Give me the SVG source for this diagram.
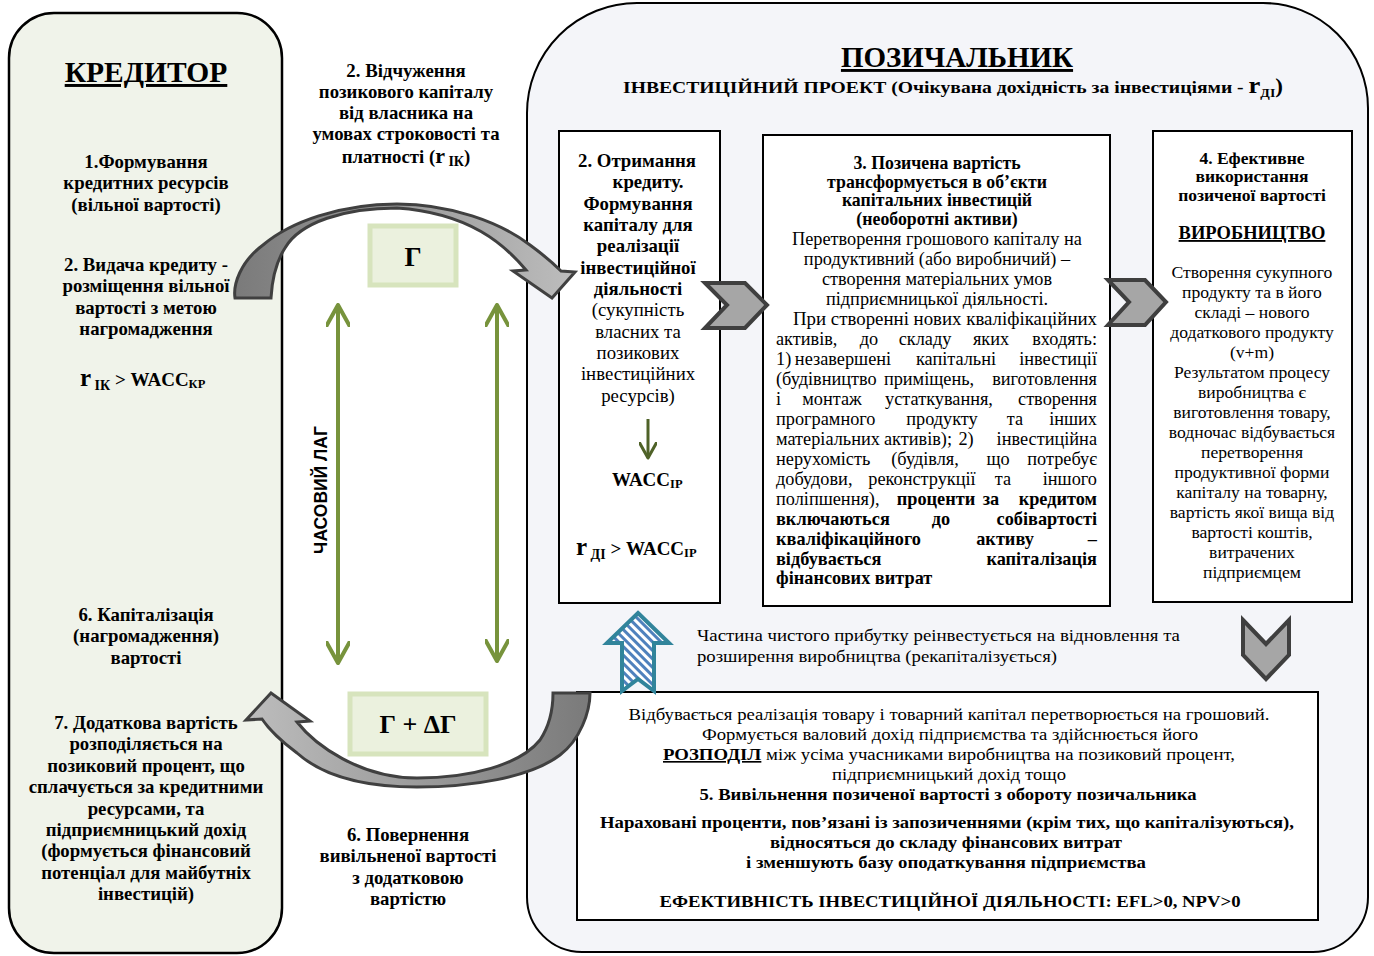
<svg xmlns="http://www.w3.org/2000/svg" width="1374" height="956" viewBox="0 0 1374 956">
<defs>
<style>
text{font-family:"Liberation Serif","Times New Roman",serif;fill:#000}
.b{font-weight:bold}
.c{text-anchor:middle}
.s{text-anchor:start}
.e{text-anchor:end}
.f19{font-size:18.8px}
.f18{font-size:18.3px}
.f3h{font-size:17.8px}
.f4{font-size:17.6px}
.u{text-decoration:underline}
.box{fill:#fff;stroke:#000;stroke-width:2}
.gbox{fill:#ebf1de;stroke:#d7e4bd;stroke-width:5}
.chev{fill:#a6a6a6;stroke:#3f3f3f;stroke-width:4;stroke-linejoin:miter}
.curv{stroke:#404040;stroke-width:3;stroke-linejoin:miter}
.gline{stroke:#77933c;stroke-width:4;fill:none}
.sans{font-family:"Liberation Sans",Arial,sans-serif}
</style>
<linearGradient id="gTop" x1="0" x2="1" y1="0" y2="0"><stop offset="0" stop-color="#7a7a7a"/><stop offset="1" stop-color="#bdbdbd"/></linearGradient>
<linearGradient id="gBot" x1="0" x2="1" y1="0" y2="0"><stop offset="0" stop-color="#bdbdbd"/><stop offset="1" stop-color="#7a7a7a"/></linearGradient>
<pattern id="hatch" width="6" height="6" patternUnits="userSpaceOnUse" patternTransform="rotate(-45)"><rect width="6" height="6" fill="#ffffff"/><rect width="3" height="6" fill="#4f81bd"/></pattern>
<marker id="gh" viewBox="0 0 10 10" refX="9" refY="5" markerWidth="6" markerHeight="6" orient="auto-start-reverse" markerUnits="strokeWidth"><path d="M0,0 L9,5 L0,10" fill="none" stroke="#77933c" stroke-width="1.7" stroke-linecap="round" stroke-linejoin="round"/></marker>
<marker id="gh2" viewBox="0 0 10 10" refX="9" refY="5" markerWidth="6" markerHeight="6" orient="auto" markerUnits="strokeWidth"><path d="M0,0 L9,5 L0,10" fill="none" stroke="#4f6228" stroke-width="1.7" stroke-linecap="round" stroke-linejoin="round"/></marker>
</defs>

<rect width="1374" height="956" fill="#ffffff"/>

<g id="kredytor">
<rect x="9" y="13" width="273" height="940" rx="45" ry="45" fill="#f0f3ea" stroke="#000" stroke-width="2.5"/>
<text class="b c u" x="146" y="82" font-size="29.5">КРЕДИТОР</text>
<text class="b c f19" x="146"><tspan x="146" y="168">1.Формування</tspan><tspan x="146" y="189">кредитних ресурсів</tspan><tspan x="146" y="211">(вільної вартості)</tspan></text>
<text class="b c f19" x="146"><tspan x="146" y="271">2. Видача кредиту -</tspan><tspan x="146" y="292">розміщення вільної</tspan><tspan x="146" y="314">вартості з метою</tspan><tspan x="146" y="335">нагромадження</tspan></text>
<text class="b s" x="80" y="386"><tspan font-size="25">r</tspan><tspan font-size="14" dy="4"> ІК</tspan><tspan font-size="19" dy="-4"> &gt; WACC</tspan><tspan font-size="12.5" dy="2">КР</tspan></text>
<text class="b c f19" x="146"><tspan x="146" y="621">6. Капіталізація</tspan><tspan x="146" y="642">(нагромадження)</tspan><tspan x="146" y="664">вартості</tspan></text>
<text class="b c f19" x="146"><tspan x="146" y="729">7. Додаткова вартість</tspan><tspan x="146" y="750">розподіляється на</tspan><tspan x="146" y="772">позиковий процент, що</tspan><tspan x="146" y="793">сплачується за кредитними</tspan><tspan x="146" y="815">ресурсами, та</tspan><tspan x="146" y="836">підприємницький дохід</tspan><tspan x="146" y="857">(формується фінансовий</tspan><tspan x="146" y="879">потенціал для майбутніх</tspan><tspan x="146" y="900">інвестицій)</tspan></text>
</g>

<g id="pozychalnyk">
<path d="M527,113 A110,110 0 0 1 637,3 L1263,3 A105,105 0 0 1 1368,108 L1368,897 A55,55 0 0 1 1313,952 L582,952 A55,55 0 0 1 527,897 Z" fill="#f4f5f9" stroke="#000" stroke-width="2"/>
<text class="b c u" x="957" y="67" font-size="29">ПОЗИЧАЛЬНИК</text>
<text class="b s" x="623" y="93" textLength="660" lengthAdjust="spacingAndGlyphs"><tspan font-size="17">ІНВЕСТИЦІЙНИЙ ПРОЕКТ (Очікувана дохідність за інвестиціями - </tspan><tspan font-size="23">r</tspan><tspan font-size="12" dy="4">ДІ</tspan><tspan font-size="20" dy="-4">)</tspan></text>
</g>

<g id="lbl-vidchuzhennia">
<text class="b c f19" x="406"><tspan x="406" y="77">2. Відчуження</tspan><tspan x="406" y="98">позикового капіталу</tspan><tspan x="406" y="119">від власника на</tspan><tspan x="406" y="140">умовах строковості та</tspan><tspan x="406" y="163">платності (<tspan font-size="22">r</tspan><tspan font-size="14" dy="3"> ІК</tspan><tspan dy="-3">)</tspan></tspan></text>
</g>

<g id="lbl-povernennia">
<text class="b c f19" x="408"><tspan x="408" y="841">6. Повернення</tspan><tspan x="408" y="862">вивільненої вартості</tspan><tspan x="408" y="884">з додатковою</tspan><tspan x="408" y="905">вартістю</tspan></text>
</g>

<g id="lbl-lag">
<text class="sans b c" font-size="17.5" transform="translate(327,490) rotate(-90)" x="0" y="0">ЧАСОВИЙ ЛАГ</text>
</g>

<g id="node-G">
<rect class="gbox" x="370" y="226" width="86" height="59"/>
<text class="b c" x="413" y="266" font-size="27">Г</text>
</g>

<g id="node-GdG">
<rect class="gbox" x="350" y="694" width="136" height="60"/>
<text class="b c" x="418" y="733" font-size="26">Г + ΔГ</text>
</g>

<g id="box2">
<rect class="box" x="559" y="131" width="161" height="472"/>
<text class="b c f19" x="638"><tspan x="637" y="167">2. Отримання</tspan><tspan x="648" y="188">кредиту.</tspan><tspan x="638" y="210">Формування</tspan><tspan x="638" y="231">капіталу для</tspan><tspan x="638" y="252">реалізації</tspan><tspan x="638" y="274">інвестиційної</tspan><tspan x="638" y="295">діяльності</tspan></text>
<text class="c f19" x="638"><tspan x="638" y="316">(сукупність</tspan><tspan x="638" y="338">власних та</tspan><tspan x="638" y="359">позикових</tspan><tspan x="638" y="380">інвестиційних</tspan><tspan x="638" y="402">ресурсів)</tspan></text>
<text class="b s" x="612" y="486"><tspan font-size="19">WACC</tspan><tspan font-size="12.5" dy="2">ІР</tspan></text>
<text class="b s" x="576" y="555"><tspan font-size="25">r</tspan><tspan font-size="14" dy="4"> ДІ</tspan><tspan font-size="19" dy="-4"> &gt; WACC</tspan><tspan font-size="12.5" dy="2">ІР</tspan></text>
</g>

<g id="box3">
<rect class="box" x="763" y="135" width="347" height="471"/>
<text class="b c f3h" x="937"><tspan x="937" y="169">3. Позичена вартість</tspan><tspan x="937" y="188">трансформується в об’єкти</tspan><tspan x="937" y="206">капітальних інвестицій</tspan><tspan x="937" y="225">(необоротні активи)</tspan></text>
<text class="c f18" x="937"><tspan x="937" y="245">Перетворення грошового капіталу на</tspan><tspan x="937" y="265">продуктивний (або виробничий) –</tspan><tspan x="937" y="285">створення матеріальних умов</tspan><tspan x="937" y="305">підприємницької діяльності.</tspan></text>
<text class="s f18" x="793" y="325" textLength="304" lengthAdjust="spacingAndGlyphs">При створенні нових кваліфікаційних</text>
<text class="f18" y="345"><tspan class="s" x="776">активів,</tspan><tspan class="c" x="869">до</tspan><tspan class="c" x="925">складу</tspan><tspan class="c" x="991">яких</tspan><tspan class="e" x="1097">входять:</tspan></text>
<text class="f18" y="365"><tspan class="s" x="776">1)</tspan><tspan class="c" x="843">незавершені</tspan><tspan class="c" x="956">капітальні</tspan><tspan class="e" x="1097">інвестиції</tspan></text>
<text class="f18" y="385"><tspan class="s" x="776">(будівництво</tspan><tspan class="c" x="929">приміщень,</tspan><tspan class="e" x="1097">виготовлення</tspan></text>
<text class="f18" y="405"><tspan class="s" x="776">і</tspan><tspan class="c" x="832">монтаж</tspan><tspan class="c" x="939">устаткування,</tspan><tspan class="e" x="1097">створення</tspan></text>
<text class="f18" y="425"><tspan class="s" x="776">програмного</tspan><tspan class="c" x="942">продукту</tspan><tspan class="c" x="1015">та</tspan><tspan class="e" x="1097">інших</tspan></text>
<text class="f18" y="445"><tspan class="s" x="776">матеріальних</tspan><tspan class="c" x="918">активів);</tspan><tspan class="c" x="966">2)</tspan><tspan class="e" x="1097">інвестиційна</tspan></text>
<text class="f18" y="465"><tspan class="s" x="776">нерухомість</tspan><tspan class="c" x="925">(будівля,</tspan><tspan class="c" x="998">що</tspan><tspan class="e" x="1097">потребує</tspan></text>
<text class="f18" y="485"><tspan class="s" x="776">добудови,</tspan><tspan class="c" x="922">реконструкції</tspan><tspan class="c" x="1003">та</tspan><tspan class="e" x="1097">іншого</tspan></text>
<text class="f18" y="505"><tspan class="s" x="776">поліпшення),</tspan><tspan class="c b" x="936">проценти</tspan><tspan class="c b" x="991">за</tspan><tspan class="e b" x="1097">кредитом</tspan></text>
<text class="f18 b" y="525"><tspan class="s" x="776">включаються</tspan><tspan class="c" x="941">до</tspan><tspan class="e" x="1097">собівартості</tspan></text>
<text class="f18 b" y="545"><tspan class="s" x="776">кваліфікаційного</tspan><tspan class="c" x="1005">активу</tspan><tspan class="e" x="1097">–</tspan></text>
<text class="f18 b" y="565"><tspan class="s" x="776">відбувається</tspan><tspan class="e" x="1097">капіталізація</tspan></text>
<text class="f18 b s" x="776" y="584">фінансових витрат</text>
</g>

<g id="box4">
<rect class="box" x="1153" y="131" width="199" height="471"/>
<text class="b c" font-size="17.5" x="1252"><tspan x="1252" y="164">4. Ефективне</tspan><tspan x="1252" y="182">використання</tspan><tspan x="1252" y="201">позиченої вартості</tspan></text>
<text class="b c u" x="1252" y="239" font-size="18.5">ВИРОБНИЦТВО</text>
<text class="c f4" x="1252"><tspan x="1252" y="278">Створення сукупного</tspan><tspan x="1252" y="298">продукту та в його</tspan><tspan x="1252" y="318">складі – нового</tspan><tspan x="1252" y="338">додаткового продукту</tspan><tspan x="1252" y="358">(v+m)</tspan><tspan x="1252" y="378">Результатом процесу</tspan><tspan x="1252" y="398">виробництва є</tspan><tspan x="1252" y="418">виготовлення товару,</tspan><tspan x="1252" y="438">водночас відбувається</tspan><tspan x="1252" y="458">перетворення</tspan><tspan x="1252" y="478">продуктивної форми</tspan><tspan x="1252" y="498">капіталу на товарну,</tspan><tspan x="1252" y="518">вартість якої вища від</tspan><tspan x="1252" y="538">вартості коштів,</tspan><tspan x="1252" y="558">витрачених</tspan><tspan x="1252" y="578">підприємцем</tspan></text>
</g>

<g id="reinvest-text">
<text class="s" font-size="16.5" x="697" y="641" textLength="483" lengthAdjust="spacingAndGlyphs">Частина чистого прибутку  реінвестується на відновлення та</text>
<text class="s" font-size="16.5" x="697" y="662" textLength="360" lengthAdjust="spacingAndGlyphs">розширення виробництва (рекапіталізується)</text>
</g>

<g id="box5">
<rect class="box" x="577" y="692" width="741" height="228"/>
<text class="c" font-size="16.5" x="949" y="720" textLength="641" lengthAdjust="spacingAndGlyphs">Відбувається реалізація товару і товарний капітал перетворюється на грошовий.</text>
<text class="c" font-size="16.5" x="950" y="740" textLength="496" lengthAdjust="spacingAndGlyphs">Формується валовий дохід підприємства та здійснюється його</text>
<text class="s" font-size="16.5" x="663" y="760" textLength="572" lengthAdjust="spacingAndGlyphs"><tspan class="b u">РОЗПОДІЛ</tspan> між усіма учасниками виробництва на позиковий процент,</text>
<text class="c" font-size="16.5" x="949" y="780" textLength="234" lengthAdjust="spacingAndGlyphs">підприємницький дохід тощо</text>
<text class="c b" font-size="16.5" x="948" y="800" textLength="497" lengthAdjust="spacingAndGlyphs">5. Вивільнення позиченої вартості з обороту позичальника</text>
<text class="c b" font-size="16.5" x="947" y="828" textLength="694" lengthAdjust="spacingAndGlyphs">Нараховані проценти, пов’язані із запозиченнями (крім тих, що капіталізуються),</text>
<text class="c b" font-size="16.5" x="946" y="848" textLength="352" lengthAdjust="spacingAndGlyphs">відносяться до складу фінансових витрат</text>
<text class="c b" font-size="16.5" x="946" y="868" textLength="400" lengthAdjust="spacingAndGlyphs">і зменшують базу оподаткування підприємства</text>
<text class="c b" font-size="16.5" x="950" y="907" textLength="581" lengthAdjust="spacingAndGlyphs">ЕФЕКТИВНІСТЬ ІНВЕСТИЦІЙНОЇ ДІЯЛЬНОСТІ: EFL&gt;0, NPV&gt;0</text>
</g>

<g id="connectors">
<line class="gline" x1="338" y1="305" x2="338" y2="663" marker-start="url(#gh)" marker-end="url(#gh)"/>
<line class="gline" x1="497" y1="305" x2="497" y2="661" marker-start="url(#gh)" marker-end="url(#gh)"/>
<line x1="648" y1="419" x2="648" y2="458" stroke="#4f6228" stroke-width="3" marker-end="url(#gh2)"/>
<path class="chev" d="M705,283 L745,283 L767,305 L745,328 L705,328 L727,305 Z"/>
<path class="chev" d="M1108,280 L1145,280 L1166,302 L1145,325 L1108,325 L1129,302 Z"/>
<path class="chev" d="M1243,620 L1266,644 L1289,620 L1289,655 L1266,679 L1243,655 Z"/>
<path d="M638,613 L669,643 L654,643 L654,691 L638,679 L622,691 L622,643 L607,643 Z" fill="url(#hatch)" stroke="#31849b" stroke-width="4" stroke-linejoin="miter"/>
<path class="curv" fill="url(#gTop)" d="M235,298 C233,285 240,262 263,245 C290,222 340,204 397,204 C450,204 500,222 530,245 C545,256 555,265 561,271 L575,272 L552,298 L513,271 L526,270 C505,245 470,213 397,208 C345,208 300,222 285,248 C276,262 272,280 271,298 Z"/>
<path class="curv" fill="url(#gBot)" d="M553,693 L590,693 C590,712 580,740 560,755 C530,778 470,787 417,787 C370,787 325,778 297,753 C282,742 268,728 262,719 L246,720 L271,693 L310,721 L297,722 C315,745 360,778 417,778 C470,778 520,765 540,740 C550,725 553,710 553,693 Z"/>
</g>
</svg>
